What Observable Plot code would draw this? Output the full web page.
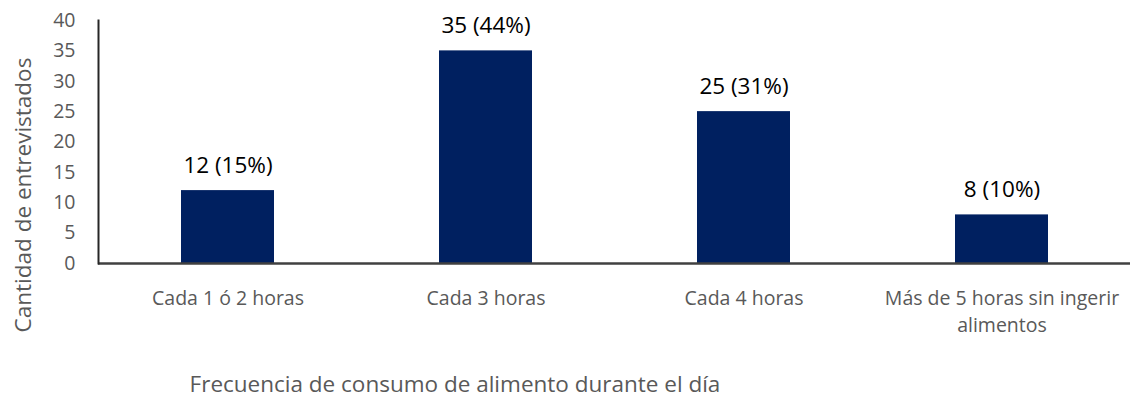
<!DOCTYPE html>
<html>
<head>
<meta charset="utf-8">
<script src="https://cdn.jsdelivr.net/npm/d3@7"></script>
<script src="https://cdn.jsdelivr.net/npm/@observablehq/plot@0.6"></script>
<style>
  html, body { margin: 0; padding: 0; background: #fff; }
  #chart svg { display: block; }
</style>
</head>
<body>
<div id="chart"></div>
<script>
const categories = ["Cada 1 ó 2 horas", "Cada 3 horas", "Cada 4 horas", "Más de 5 horas sin ingerir\nalimentos"];
const counts = [12, 35, 25, 8];
const percents = [15, 44, 31, 10];
const yTicks = [0, 5, 10, 15, 20, 25, 30, 35, 40];
const yTitle = "Cantidad de entrevistados";
const xTitle = "Frecuencia de consumo de alimento durante el día";

const data = categories.map((c, i) => ({cat: c, value: counts[i], label: `${counts[i]} (${percents[i]}%)`}));

const font = "'Open Sans', sans-serif";

const plot = Plot.plot({
  width: 1130,
  height: 402,
  marginTop: 20,
  marginBottom: 139,
  marginLeft: 98,
  marginRight: 0,
  style: {fontFamily: font, background: "#fff"},
  x: {domain: categories, paddingInner: 0.64, paddingOuter: 0.32, label: null},
  y: {domain: [0, 40], label: null},
  marks: [
    Plot.barY(data, {x: "cat", y: "value", fill: "#002060"}),
    Plot.axisY({ticks: yTicks, tickSize: 0, tickPadding: 23, fontSize: 19.5, fill: "#595959", label: null}),
    Plot.axisX({tickSize: 0, tickPadding: 22, fontSize: 19.5, fill: "#595959", lineHeight: 1.38, label: null}),
    Plot.ruleY([0], {stroke: "#404040", strokeWidth: 2.5}),
    Plot.frame({anchor: "left", stroke: "#262626", strokeWidth: 2}),
    Plot.text(data, {x: "cat", y: "value", text: "label", dy: -25, fontSize: 22.5, fill: "#000"})
  ]
});

const svg = d3.select(plot);
svg.append("text")
  .attr("transform", "translate(31,195) rotate(-90)")
  .attr("text-anchor", "middle")
  .attr("font-family", font)
  .attr("font-size", 22.5)
  .attr("fill", "#595959")
  .text(yTitle);
svg.append("text")
  .attr("x", 455)
  .attr("y", 392)
  .attr("text-anchor", "middle")
  .attr("font-family", font)
  .attr("font-size", 22.5)
  .attr("fill", "#595959")
  .text(xTitle);

document.getElementById("chart").appendChild(plot);
</script>
</body>
</html>
